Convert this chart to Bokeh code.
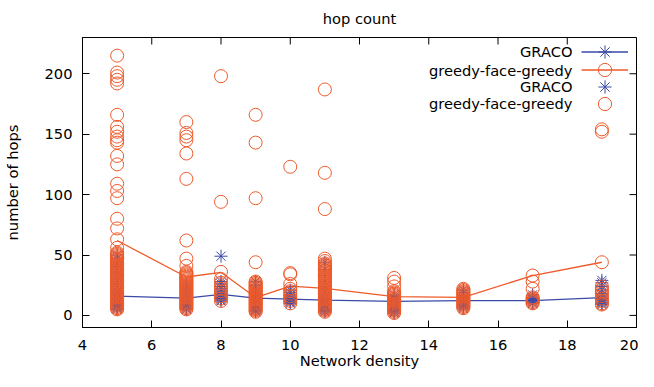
import math
from bokeh.plotting import figure
from bokeh.models import Range1d, FixedTicker, Label, Legend, LegendItem
from bokeh.embed import file_html
from bokeh.resources import INLINE

# ---------------- data ----------------
densities = [5, 7, 8, 9, 10, 11, 13, 15, 17, 19]
graco_mean = [16.0, 14.3, 17.4, 14.3, 13.5, 12.7, 11.6, 12.2, 12.3, 14.8]
gfg_mean = [62.0, 31.8, 35.7, 14.8, 24.3, 22.4, 15.6, 15.0, 33.0, 44.0]

graco_5 = [50, 47, 44, 42, 40, 38, 36, 34, 32, 30, 28, 26, 24, 22, 20, 19, 18, 17, 16, 15, 14, 13, 12, 11, 10, 9, 8, 7, 6, 5]
graco_7 = [26, 24, 22, 20, 18, 17, 16, 15, 14, 13, 12, 11, 10, 9, 8, 7, 6, 5]
graco_8 = [49, 28, 26, 24, 22, 20, 18, 17, 16, 15, 14, 13, 12]
graco_9 = [28, 25, 22, 20, 18, 16, 15, 14, 13, 12, 11, 10, 9, 8, 7, 6, 5, 4, 3]
graco_10 = [21, 19, 17, 16, 15, 14, 13, 12, 11, 10]
graco_11 = [44, 38, 33, 28, 24, 21, 19, 17, 15, 14, 13, 12, 11, 10, 9, 8, 7, 6, 5, 4, 3]
graco_13 = [17, 15, 14, 13, 12, 11, 10, 9, 8, 7, 6, 5, 4, 3, 2]
graco_15 = [21, 19, 17, 15, 14, 13, 12, 11, 10, 9, 8, 7, 6]
graco_17 = [17, 15, 14, 13, 12, 11, 10]
graco_19 = [29, 27, 24, 21, 18, 16, 14, 13, 12, 11, 10, 9]

gfg_5 = [215, 201, 198, 195, 192, 166, 156, 152, 148, 145, 143, 132, 125, 109, 103, 97, 80, 72, 63, 56,
         52, 51, 50, 49, 48, 47, 46, 45, 44, 43, 42, 41, 40, 39, 38, 37, 36, 35, 34, 33, 32, 31, 30, 29,
         28, 27, 26, 25, 24, 23, 22, 21, 20, 19, 18, 17, 16, 15, 14, 13, 12, 11, 10, 9, 8, 7, 6, 5]
gfg_7 = [160, 151, 148, 145, 134, 113, 62, 47, 41, 36, 35, 34, 33, 32, 31, 30, 29, 28, 27, 26, 25, 24, 23,
         22, 21, 20, 19, 18, 17, 16, 15, 14, 13, 12, 11, 10, 9, 8, 7, 6, 5]
gfg_8 = [198, 94, 36, 30, 27, 24, 22, 20, 18, 16, 14, 12]
gfg_9 = [166, 143, 97, 44, 28, 27, 26, 25, 24, 23, 22, 21, 20, 19, 18, 17, 16, 15, 14, 13, 12, 11, 10,
         9, 8, 7, 6, 5, 4, 3]
gfg_10 = [123, 35, 34, 26, 22, 20, 18, 16, 14, 12, 10]
gfg_11 = [187, 118, 88, 47, 45, 43, 42, 41, 40, 39, 38, 37, 36, 35, 34, 33, 32, 31, 30, 29, 28, 27, 26, 25,
          24, 23, 22, 21, 20, 19, 18, 17, 16, 15, 14, 13, 12, 11, 10, 9, 8, 7, 6, 5, 4, 3]
gfg_13 = [31, 28, 24, 20, 19, 18, 17, 16, 15, 14, 13, 12, 11, 10, 9, 8, 7, 6, 5, 4, 3, 2]
gfg_15 = [22, 21, 20, 19, 18, 17, 16, 15, 14, 13, 12, 11, 10, 9, 8, 7, 6]
gfg_17 = [33, 28, 22, 15, 14, 13, 12, 11, 10]
gfg_19 = [154, 152, 44, 24, 22, 20, 18, 16, 14, 12, 10, 9]

graco_points = [graco_5, graco_7, graco_8, graco_9, graco_10, graco_11, graco_13, graco_15, graco_17, graco_19]
gfg_points = [gfg_5, gfg_7, gfg_8, gfg_9, gfg_10, gfg_11, gfg_13, gfg_15, gfg_17, gfg_19]

x_ticks = [4, 6, 8, 10, 12, 14, 16, 18, 20]
y_ticks = [0, 50, 100, 150, 200]
series_names = ["GRACO", "greedy-face-greedy"]
title_text = "hop count"
x_title = "Network density"
y_title = "number of hops"

# ---------------- styling ----------------
BLUE = "#3a4aa8"
ORANGE = "#ef5a2a"
FONT = "DejaVu Sans"
FS = "11pt"
TICK = 7
W, H = 638, 371
B_LEFT, B_RIGHT, B_TOP, B_BOTTOM = 78, 2, 37, 42
FRAME_H = H - B_TOP - B_BOTTOM


def flatten(groups):
    xs, ys = [], []
    for d, vals in zip(densities, groups):
        xs.extend([d] * len(vals))
        ys.extend(vals)
    return xs, ys


gx, gy = flatten(graco_points)
fx, fy = flatten(gfg_points)

p = figure(width=W, height=H, x_range=Range1d(4, 20), y_range=Range1d(-10, 230),
           output_backend="svg", toolbar_location=None, title=title_text,
           min_border_left=B_LEFT, min_border_right=B_RIGHT, min_border_top=B_TOP,
           min_border_bottom=B_BOTTOM)
p.background_fill_color = "white"
p.border_fill_color = "white"
p.outline_line_color = "black"
p.outline_line_width = 1
p.grid.visible = False

p.title.align = "center"
p.title.vertical_align = "top"
p.title.text_font = FONT
p.title.text_font_size = FS
p.title.text_font_style = "normal"
p.title.text_color = "black"
p.title.standoff = 18

for ax in (p.xaxis[0], p.yaxis[0]):
    ax.major_tick_in = TICK
    ax.major_tick_out = 0
    ax.minor_tick_in = 0
    ax.minor_tick_out = 0
    ax.axis_line_color = "black"
    ax.major_tick_line_color = "black"
    ax.major_label_text_font = FONT
    ax.major_label_text_font_size = FS
    ax.major_label_text_color = "black"
    ax.axis_label_text_font = FONT
    ax.axis_label_text_font_size = FS
    ax.axis_label_text_font_style = "normal"
    ax.axis_label_text_color = "black"

p.xaxis.ticker = FixedTicker(ticks=x_ticks)
p.yaxis.ticker = FixedTicker(ticks=y_ticks)
p.xaxis.axis_label = x_title
p.yaxis.axis_label = y_title
p.xaxis.major_label_standoff = 12
p.xaxis.axis_label_standoff = -1
p.yaxis.major_label_standoff = 10
p.yaxis.axis_label_standoff = 21

# mirrored inward ticks on the top and right edges (clipped to the frame)
p.scatter(x=x_ticks, y=[p.y_range.end] * len(x_ticks), marker="dash", size=2 * TICK,
          angle=math.pi / 2, line_color="black", line_width=1)
p.scatter(x=[p.x_range.end] * len(y_ticks), y=y_ticks, marker="dash", size=2 * TICK,
          line_color="black", line_width=1)

# mean lines
r_gline = p.line(densities, graco_mean, line_color=BLUE, line_width=1.3)
r_fline = p.line(densities, gfg_mean, line_color=ORANGE, line_width=1.3)

# individual runs
r_gpts = p.scatter(x=gx, y=gy, marker="asterisk", size=13, line_color=BLUE, line_width=1)
r_fpts = p.scatter(x=fx, y=fy, marker="circle", size=13, fill_color=None, line_color=ORANGE, line_width=1)

# key, gnuplot style: text right-aligned on the left, sample on the right
row_from_top = [16.3, 34.7, 51.3, 68.0]
key_renderers = [[r_gline, r_gpts], [r_fline, r_fpts], [r_gpts], [r_fpts]]
key_texts = [series_names[0], series_names[1], series_names[0], series_names[1]]
for dy, rends, txt in zip(row_from_top, key_renderers, key_texts):
    yy = FRAME_H - dy
    lg = Legend(items=[LegendItem(label=" ", renderers=rends)],
                location=(499, yy - 16.5), glyph_width=47, glyph_height=33, padding=0, margin=0,
                label_standoff=0, label_width=0, label_height=0, label_text_font=FONT,
                label_text_font_size=FS, border_line_alpha=0, background_fill_alpha=0)
    p.add_layout(lg, "center")
    p.add_layout(Label(x=490, y=yy, x_units="screen", y_units="screen", text=txt,
                       text_align="right", text_baseline="middle", text_font=FONT,
                       text_font_size=FS, text_color="black"))

open("out.html", "w").write(file_html(p, INLINE))
